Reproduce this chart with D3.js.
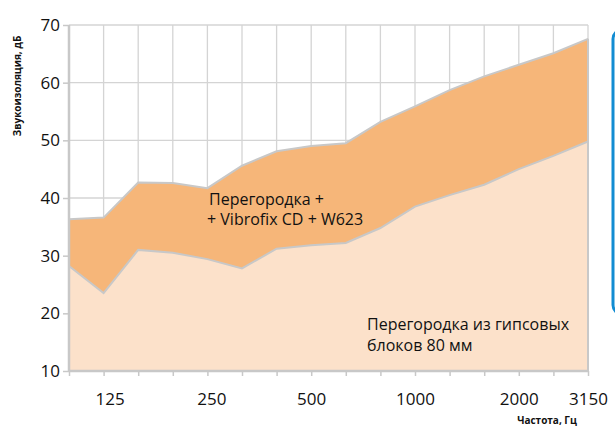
<!DOCTYPE html>
<html><head><meta charset="utf-8">
<script src="https://cdn.jsdelivr.net/npm/d3@7"></script>
<style>body{margin:0;background:#fff}svg{display:block}</style>
</head><body>
<script>
const frequencies = ["100","125","160","200","250","315","400","500","630","800","1000","1250","1600","2000","2500","3150"];
const shownLabels = ["125","250","500","1000","2000","3150"];
const upperValues = [36.3,36.6,42.7,42.6,41.7,45.6,48.1,49.0,49.5,53.2,55.9,58.7,61.1,63.1,65.1,67.6];
const lowerValues = [28.2,23.5,31.0,30.5,29.4,27.8,31.2,31.8,32.2,34.8,38.5,40.5,42.3,45.0,47.3,49.8];
const yTicks = [10,20,30,40,50,60,70];
const upperName = ["Перегородка +", "+ Vibrofix CD + W623"];
const lowerName = ["Перегородка из гипсовых", "блоков 80 мм"];

const W = 615, H = 426;
const svg = d3.select("body").append("svg").attr("width", W).attr("height", H);
const x = d3.scalePoint().domain(frequencies).range([69, 588]);
const y = d3.scaleLinear().domain([10, 70]).range([371, 25]);
const font = "'Open Sans', sans-serif";

// grid
svg.append("g").selectAll("line").data(yTicks).join("line")
  .attr("x1", 69).attr("x2", 588).attr("y1", d => y(d)).attr("y2", d => y(d))
  .attr("stroke", "#d4d4d4").attr("stroke-width", 1.3);
svg.append("g").selectAll("line").data(frequencies).join("line")
  .attr("x1", d => x(d)).attr("x2", d => x(d)).attr("y1", 25).attr("y2", 371)
  .attr("stroke", "#d4d4d4").attr("stroke-width", 1.3);

const idx = d3.range(frequencies.length);
const areaUpper = d3.area().x(i => x(frequencies[i])).y0(y(10)).y1(i => y(upperValues[i]));
const areaLower = d3.area().x(i => x(frequencies[i])).y0(y(10)).y1(i => y(lowerValues[i]));
const lineUpper = d3.line().x(i => x(frequencies[i])).y(i => y(upperValues[i]));
const lineLower = d3.line().x(i => x(frequencies[i])).y(i => y(lowerValues[i]));

svg.append("path").datum(idx).attr("d", areaUpper).attr("fill", "#F6B679");
svg.append("path").datum(idx).attr("d", lineUpper).attr("fill", "none").attr("stroke", "#c8c8c8").attr("stroke-width", 2);
svg.append("path").datum(idx).attr("d", areaLower).attr("fill", "#FCE1CA");
svg.append("path").datum(idx).attr("d", lineLower).attr("fill", "none").attr("stroke", "#c8c8c8").attr("stroke-width", 2);
svg.append("line").attr("x1", x("3150")).attr("x2", x("3150")).attr("y1", y(upperValues[15])).attr("y2", y(10))
  .attr("stroke", "#c8c8c8").attr("stroke-width", 2);

// axes
const yAxis = svg.append("g").attr("transform", "translate(69,0)")
  .call(d3.axisLeft(y).tickValues(yTicks).tickSize(6).tickPadding(3));
const xAxis = svg.append("g").attr("transform", "translate(0,371)")
  .call(d3.axisBottom(x).tickSize(5).tickPadding(17).tickFormat(d => shownLabels.includes(d) ? d : ""));
[yAxis, xAxis].forEach(g => {
  g.select(".domain").attr("stroke", "#c8c8c8").attr("stroke-width", 2.5);
  g.selectAll(".tick line").attr("stroke", "#c8c8c8").attr("stroke-width", 1.5);
  g.selectAll("text").attr("font-family", font).attr("font-size", 17).attr("fill", "#111");
});
xAxis.selectAll(".tick text").attr("dx", d => d === "125" ? 6 : d === "250" ? 4 : 0);
yAxis.select(".domain").attr("d", "M0,371V25");
xAxis.select(".domain").attr("d", "M69,0H588");

// axis titles
svg.append("text").attr("transform", "translate(21,86) rotate(-90)")
  .attr("text-anchor", "middle").attr("font-family", font).attr("font-weight", "bold")
  .attr("font-size", 10).attr("fill", "#111").text("Звукоизоляция, дБ");
svg.append("text").attr("x", 547).attr("y", 424).attr("text-anchor", "middle")
  .attr("font-family", font).attr("font-weight", "bold").attr("font-size", 10)
  .attr("fill", "#111").text("Частота, Гц");

// series labels
const t1 = svg.append("text").attr("font-family", font).attr("font-size", 16).attr("fill", "#111");
t1.append("tspan").attr("x", 209).attr("y", 205).text(upperName[0]);
t1.append("tspan").attr("x", 207).attr("y", 225).text(upperName[1]);
const t2 = svg.append("text").attr("font-family", font).attr("font-size", 16).attr("fill", "#111");
t2.append("tspan").attr("x", 367).attr("y", 330).text(lowerName[0]);
t2.append("tspan").attr("x", 367).attr("y", 351).text(lowerName[1]);

// blue frame at right edge
svg.append("rect").attr("x", 613).attr("y", 30).attr("width", 40).attr("height", 284).attr("rx", 9)
  .attr("fill", "none").attr("stroke", "#128cd2").attr("stroke-width", 3);
</script>
</body></html>
